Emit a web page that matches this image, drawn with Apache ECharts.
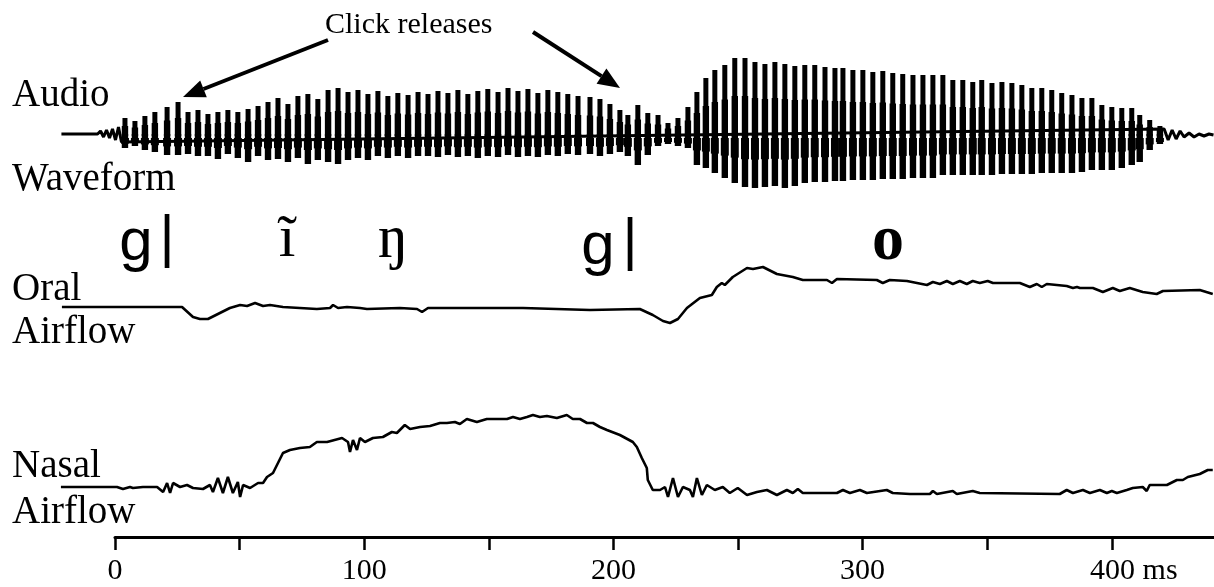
<!DOCTYPE html>
<html><head><meta charset="utf-8">
<script src="https://cdn.jsdelivr.net/npm/echarts@6/dist/echarts.min.js"></script>
<style>html,body{margin:0;padding:0;background:#fff}#c{width:1214px;height:587px}</style>
</head><body><div id="c"></div>
<script>
// ---- Data (time in ms, amplitudes in relative units) ----
const pulseMs = [4.0,8.0,12.0,16.0,20.9,25.3,29.3,33.3,37.3,41.3,45.3,49.3,53.4,57.4,61.4,65.4,69.4,73.4,77.4,81.4,85.5,89.5,93.5,97.5,101.5,105.5,109.5,113.5,117.6,121.6,125.6,129.6,133.6,137.6,141.6,145.6,149.6,153.7,157.7,161.7,165.7,169.7,173.7,177.7,181.7,185.8,190.6,194.6,198.6,202.6,205.8,209.8,213.8,217.9,221.9,225.9,229.9,233.5,237.1,240.7,244.7,248.7,252.8,256.8,260.8,264.8,268.8,272.8,276.8,280.8,284.9,288.9,292.1,296.1,300.1,304.1,308.1,312.1,316.1,320.2,324.2,328.2,332.2,336.2,340.2,344.2,347.8,351.9,355.9,359.9,363.9,367.9,371.9,375.9,379.9,384.0,388.0,392.0,396.0,400.0,404.0,408.0,411.2,415.2,419.3];
const pulseTop = [16,13,18,22,27,32,22,24,20,22,24,22,25,28,32,36,30,38,40,35,44,46,42,44,40,43,38,41,39,42,40,43,41,44,40,43,45,42,46,43,45,41,44,42,40,38,37,35,30,24,19,29,21,19,11,16,27,42,56,64,69,76,76,72,70,72,70,68,69,69,67,66,66,64,64,62,63,61,60,59,59,59,59,54,54,52,54,51,52,51,49,46,46,44,41,39,36,36,29,27,26,26,19,14,8];
const pulseBottom = [-14,-12,-16,-18,-21,-21,-20,-22,-22,-25,-20,-24,-28,-22,-26,-25,-28,-24,-30,-26,-28,-30,-26,-24,-26,-22,-24,-22,-24,-22,-22,-23,-21,-23,-22,-24,-22,-23,-21,-23,-22,-23,-21,-22,-20,-21,-20,-22,-20,-18,-22,-31,-21,-12,-10,-12,-14,-31,-34,-39,-44,-49,-53,-54,-53,-52,-54,-52,-49,-48,-48,-47,-47,-46,-46,-46,-45,-45,-45,-44,-44,-44,-41,-41,-41,-41,-41,-41,-40,-40,-40,-40,-39,-39,-39,-39,-38,-36,-36,-36,-34,-31,-28,-16,-10];
const audioTraceMs = [-21.5,-7.0,-5.8,-4.6,-3.4,-2.2,-1.0,0.2,1.4,2.6,421.0,422.6,424.2,425.8,427.4,429.0,431.0,433.0,435.0,437.0,439.0,440.8];
const audioTraceVal = [0,0,3,-3,4,-4,5,-6,7,-8,5,-6,4,-5,3,-3,1,-3,0,-2,0,-1];

const oralMs = [-21.3,26.9,31.3,34.1,37.3,42.1,46.1,50.2,53.0,56.2,59.4,62.2,67.4,74.2,81.0,86.3,87.5,89.5,93.1,98.3,101.1,114.3,121.2,123.2,125.6,163.7,190.6,210.6,215.8,219.9,222.7,225.9,229.5,234.7,239.5,241.5,243.5,244.7,247.9,253.6,256.0,260.0,265.6,272.0,276.0,285.7,287.7,289.7,305.7,308.1,310.9,317.8,325.8,328.2,331.0,333.8,336.2,339.0,341.8,344.2,347.0,350.2,352.3,363.1,367.1,369.9,371.9,373.9,381.9,384.4,386.0,387.2,392.4,396.4,400.4,403.2,407.2,412.4,418.0,420.5,435.3,440.5];
const oralVal = [0,0,-10,-12,-12,-6,-1,2,1,4,1,2,0,-1,-2,-1,2,-1,0,-1,-2,-1,-2,-5,-1,-1,-3,-2,-8,-14,-16,-12,-1,9,12,20,24,22,30,39,38,40,33,30,27,27,24,28,27,24,27,26,22,25,23,26,23,26,23,26,24,26,24,24,20,23,20,23,21,19,20,19,19,15,19,16,19,15,13,16,17,13];

const nasalMs = [-21.7,0.8,3.2,6.0,7.2,11.2,16.9,19.3,20.9,22.1,23.3,26.1,28.9,31.3,35.3,38.1,39.3,41.3,43.3,45.3,47.3,49.3,50.2,51.4,54.2,57.4,59.4,61.0,63.4,65.0,67.4,70.2,74.2,78.2,81.0,85.1,91.1,93.5,94.3,95.5,97.1,98.3,100.3,103.5,107.5,111.1,113.1,116.3,118.4,122.4,126.4,130.4,133.2,136.4,138.4,141.2,145.2,149.2,157.3,159.7,162.5,165.3,167.7,170.5,173.3,177.3,181.3,183.7,186.6,189.4,191.8,194.6,197.4,202.6,207.8,209.4,211.4,213.4,213.8,215.8,218.7,220.7,221.9,223.9,225.9,227.9,230.7,231.9,233.5,235.5,237.5,240.7,243.9,246.7,249.9,253.6,257.6,261.6,265.6,269.6,272.0,274.0,276.0,289.7,292.1,294.9,298.9,301.7,309.7,312.1,319.0,327.0,328.2,329.8,336.2,337.8,344.2,347.0,379.1,381.9,384.4,388.4,391.2,395.2,398.0,400.0,402.0,406.0,408.4,412.4,414.0,415.2,422.1,426.1,428.5,430.5,435.3,438.5,440.5];
const nasalVal = [0,0,-2,0,-1,0,0,-5,4,-6,4,0,2,-1,-2,2,-5,9,-6,10,-6,5,-10,2,-1,4,4,10,14,22,34,37,39,40,45,45,49,45,35,47,37,49,45,49,50,55,54,62,58,60,61,64,64,65,63,68,65,68,68,70,68,70,72,70,71,69,72,68,68,64,64,60,57,52,45,40,29,19,7,-3,-3,0,-10,9,-10,0,-3,-10,9,-8,2,-3,0,-6,-1,-8,-5,-3,-8,-3,-6,-2,-6,-6,-3,-6,-3,-6,-3,-6,-7,-7,-4,-7,-4,-7,-4,-6,-7,-3,-6,-3,-6,-3,-6,-4,-6,-3,-1,0,-4,2,2,7,7,10,13,17,17];

const tickMs = [0,50,100,150,200,250,300,350,400];
const labelMs = [0,100,200,300,400];
const unitLabel = 'ms';

// ---- Chart ----
const chart = echarts.init(document.getElementById('c'), null, {renderer:'canvas'});
const serif = '"Liberation Serif", "Times New Roman", serif';
const sans = '"Liberation Sans", Arial, sans-serif';
const zip = (a,b) => a.map((v,i)=>[v,b[i]]);
const XMIN = -22.07, XMAX = 441;
const hiddenX = (gi) => ({type:'value', gridIndex:gi, min:XMIN, max:XMAX, show:false});
const hiddenY = (gi, r) => ({type:'value', gridIndex:gi, min:-r, max:r, show:false});

const txt = (text, x, y, size, opts={}) => ({
  type:'text', silent:true,
  style:Object.assign({text, x, y, font:(opts.weight||'normal')+' '+size+'px '+(opts.family||serif), fill:'#000',
    align:opts.align||'left', verticalAlign:'middle', textAlign:opts.align||'left', textVerticalAlign:'middle'})
});
const arrow = (x1,y1,bx,by,head) => ([
  {type:'line', silent:true, shape:{x1,y1,x2:bx,y2:by}, style:{stroke:'#000', lineWidth:4}},
  {type:'polygon', silent:true, shape:{points:head}, style:{fill:'#000'}}
]);

const option = {
  animation:false,
  backgroundColor:'#fff',
  grid:[
    {left:60, right:0, top:54, height:160},
    {left:60, right:0, top:247, height:120},
    {left:60, right:0, top:407, height:160},
    {left:115, right:0, top:530, height:7}
  ],
  xAxis:[hiddenX(0), hiddenX(1), hiddenX(2), {
    type:'value', gridIndex:3, min:0, max:XMAX, position:'bottom',
    axisLine:{show:true, lineStyle:{color:'#000', width:3}},
    axisTick:{show:true, inside:false, length:13, customValues:tickMs, lineStyle:{color:'#000', width:2.5}},
    splitLine:{show:false},
    axisLabel:{show:true, customValues:labelMs, margin:19, color:'#000', fontFamily:serif, fontSize:30,
      formatter:(v)=> v===400 ? '{p|}'+v+'{u| '+unitLabel+'}' : String(v),
      rich:{p:{width:44, fontSize:30, fontFamily:serif}, u:{fontSize:30, fontFamily:serif, color:'#000'}}}
  }],
  yAxis:[hiddenY(0,80), hiddenY(1,60), hiddenY(2,80), {type:'value', gridIndex:3, show:false}],
  series:[
    {type:'line', name:'audio-trace', xAxisIndex:0, yAxisIndex:0, data:zip(audioTraceMs,audioTraceVal),
      showSymbol:false, lineStyle:{color:'#000', width:3}, silent:true},
    {type:'custom', name:'audio-pulses', xAxisIndex:0, yAxisIndex:0, silent:true,
      data: pulseMs.map((t,i)=>[t,pulseTop[i],pulseBottom[i]]),
      renderItem:(params, api)=>{
        const t = api.value(0);
        const pTop = api.coord([t, api.value(1)]);
        const pMid = api.coord([t, 0]);
        const pBot = api.coord([t, api.value(2)]);
        const hTop = pMid[1]-pTop[1];
        const hBot = pBot[1]-pMid[1];
        return {type:'group', children:[
          {type:'rect', shape:{x:pTop[0]-2.5, y:pTop[1], width:5.0, height:hTop*0.55}, style:{fill:'#000'}},
          {type:'rect', shape:{x:pTop[0]-3.2, y:pTop[1]+hTop*0.5, width:6.4, height:hTop*0.5+2}, style:{fill:'#000'}},
          {type:'rect', shape:{x:pMid[0]-3.2, y:pMid[1], width:6.4, height:hBot}, style:{fill:'#000'}},
          {type:'rect', shape:{x:pMid[0]-4.0, y:pMid[1]+4, width:8.0, height:hBot*0.4}, style:{fill:'#000'}}
        ]};
      }},
    {type:'line', name:'oral', xAxisIndex:1, yAxisIndex:1, data:zip(oralMs,oralVal),
      showSymbol:false, lineStyle:{color:'#000', width:2.6}, silent:true},
    {type:'line', name:'nasal', xAxisIndex:2, yAxisIndex:2, data:zip(nasalMs,nasalVal),
      showSymbol:false, lineStyle:{color:'#000', width:2.6}, silent:true}
  ],
  graphic:{elements:[
    txt('Click releases', 325, 25, 30),
    txt('Audio', 12, 96, 39),
    txt('Waveform', 12, 180, 39),
    txt('Oral', 12, 290, 39),
    txt('Airflow', 12, 333, 39),
    txt('Nasal', 12, 467, 39),
    txt('Airflow', 12, 513, 39),
    txt('g', 136, 243, 60, {align:'center', family:sans}),
    txt('|', 167, 240, 58, {align:'center', family:sans}),
    txt('i\u0303', 287, 240, 60, {align:'center'}),
    txt('\u014B', 393, 241, 62, {align:'center'}),
    txt('g', 598, 247, 60, {align:'center', family:sans}),
    txt('|', 630, 243, 58, {align:'center', family:sans}),
    txt('o', 888, 242, 64, {align:'center', weight:'bold'}),
    ...arrow(328,40,203.5,89,[[183,97],[206.8,97.3],[200.2,80.6]]),
    ...arrow(533,32,601.5,76.1,[[620,88],[596.6,83.7],[606.4,68.5]])
  ]}
};
chart.setOption(option);
</script></body></html>
